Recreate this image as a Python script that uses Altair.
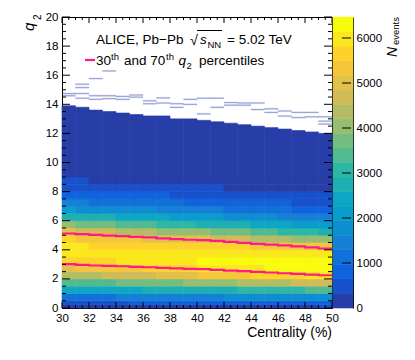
import altair as alt
import pandas as pd
import numpy as np

# ---------------- data ----------------
cent_low = list(range(30, 50))                       # centrality bins, 1 % wide
q2_low = [0.0, 0.25, 0.5, 1.0, 1.5, 2.0, 2.5, 3.0, 3.5, 4.0, 4.5,
          5.0, 5.5, 6.0, 6.5, 7.0, 7.5, 8.0, 8.5]    # q2 bin lower edges
q2_high = [0.25, 0.5, 1.0, 1.5, 2.0, 2.5, 3.0, 3.5, 4.0, 4.5, 5.0,
           5.5, 6.0, 6.5, 7.0, 7.5, 8.0, 8.5, 9.0]   # q2 bin upper edges
# counts per q2 row (bottom to top), one value per centrality bin
row_000 = [200, 205, 210, 215, 220, 230, 235, 240, 245, 250, 260, 265, 270, 280, 285, 290, 300, 310, 320, 330]
row_025 = [550, 570, 590, 610, 630, 650, 670, 690, 710, 730, 750, 770, 790, 810, 830, 850, 870, 890, 910, 930]
row_050 = [1150, 1190, 1230, 1270, 1310, 1350, 1390, 1430, 1470, 1510, 1550, 1590, 1630, 1670, 1710, 1750, 1790, 1830, 1870, 1900]
row_100 = [2300, 2350, 2400, 2450, 2500, 2550, 2600, 2650, 2700, 2750, 2800, 2850, 2900, 2950, 3000, 3060, 3120, 3180, 3240, 3300]
row_150 = [3300, 3370, 3440, 3510, 3580, 3650, 3720, 3790, 3860, 3930, 4000, 4080, 4160, 4240, 4320, 4400, 4500, 4600, 4700, 4800]
row_200 = [4300, 4390, 4480, 4570, 4660, 4750, 4840, 4930, 5020, 5110, 5200, 5290, 5380, 5470, 5560, 5640, 5730, 5820, 5910, 6000]
row_250 = [5100, 5180, 5250, 5330, 5400, 5480, 5550, 5630, 5700, 5780, 5850, 5910, 5970, 6030, 6090, 6160, 6220, 6280, 6340, 6400]
row_300 = [5650, 5700, 5750, 5800, 5850, 5900, 5950, 6000, 6050, 6100, 6150, 6180, 6210, 6240, 6260, 6290, 6320, 6350, 6380, 6420]
row_350 = [5900, 5920, 5940, 5960, 5980, 6000, 6020, 6040, 6060, 6080, 6100, 6110, 6100, 6120, 6110, 6100, 6110, 6120, 6100, 6100]
row_400 = [5850, 5830, 5810, 5790, 5770, 5750, 5730, 5710, 5690, 5670, 5650, 5600, 5550, 5500, 5450, 5400, 5350, 5300, 5250, 5200]
row_450 = [5550, 5490, 5420, 5360, 5290, 5230, 5160, 5100, 5030, 4970, 4900, 4800, 4700, 4600, 4500, 4400, 4300, 4200, 4100, 4000]
row_500 = [4900, 4800, 4700, 4600, 4500, 4400, 4300, 4200, 4100, 4000, 3900, 3790, 3680, 3570, 3460, 3340, 3230, 3120, 3010, 2900]
row_550 = [3950, 3850, 3740, 3640, 3530, 3430, 3320, 3220, 3110, 3010, 2900, 2800, 2700, 2600, 2500, 2400, 2300, 2200, 2100, 2000]
row_600 = [2850, 2770, 2690, 2610, 2530, 2450, 2370, 2290, 2210, 2130, 2050, 1970, 1890, 1810, 1740, 1660, 1580, 1500, 1430, 1350]
row_650 = [2000, 1940, 1880, 1820, 1760, 1700, 1640, 1580, 1520, 1460, 1400, 1340, 1280, 1220, 1160, 1090, 1030, 970, 910, 850]
row_700 = [1350, 1300, 1260, 1210, 1170, 1120, 1080, 1030, 990, 940, 900, 860, 820, 780, 740, 700, 660, 620, 590, 550]
row_750 = [900, 870, 840, 800, 770, 740, 710, 680, 640, 610, 580, 550, 520, 500, 470, 440, 410, 390, 360, 340]
row_800 = [560, 540, 520, 500, 480, 460, 440, 420, 400, 380, 360, 340, 320, 300, 280, 270, 250, 230, 220, 200]
row_850 = [340, 330, 320, 310, 300, 290, 280, 270, 260, 250, 240, 230, 210, 200, 190, 170, 160, 150, 130, 120]
count_rows = [row_000, row_025, row_050, row_100, row_150, row_200, row_250, row_300, row_350,
              row_400, row_450, row_500, row_550, row_600, row_650, row_700, row_750, row_800,
              row_850]

# low-count tail (1..323 events) from q2 = 9 up to a top edge per centrality bin
tail_start = 9.0
tail_top = [13.9, 13.8, 13.6, 13.5, 13.4, 13.3, 13.2, 13.2, 13.0, 13.0,
            12.9, 12.8, 12.7, 12.6, 12.5, 12.4, 12.3, 12.2, 12.1, 12.0]
tail_count = 150

# sparse single-entry bins above the tail
dash_cent = [30, 30, 31, 31, 31, 31, 32, 32, 32, 33, 33, 33, 34, 34, 35, 35, 36, 36, 37, 37,
             38, 38, 39, 39, 40, 40, 41, 41, 42, 42, 43, 43, 44, 44, 45, 45, 46, 46, 47, 47,
             48, 48, 49, 49, 49]
dash_q2 = [14.70, 14.55, 15.34, 15.11, 14.70, 14.38, 15.73, 14.55, 14.30, 16.25, 14.55, 14.35,
           14.50, 14.30, 14.60, 14.45, 14.20, 14.00, 14.40, 14.05, 14.00, 13.75, 14.30, 13.95,
           14.38, 13.30, 14.38, 13.75, 14.08, 13.90, 14.05, 13.90, 14.05, 13.60, 13.65, 13.40,
           13.50, 13.15, 13.40, 13.05, 13.40, 13.10, 13.10, 12.80, 12.60]
dash_count = 1

# 30th and 70th q2 percentiles per centrality bin
p30 = [3.01, 2.96, 2.92, 2.89, 2.87, 2.83, 2.80, 2.76, 2.73, 2.69,
       2.67, 2.62, 2.57, 2.53, 2.48, 2.44, 2.39, 2.34, 2.30, 2.25]
p70 = [5.12, 5.08, 5.03, 4.98, 4.94, 4.89, 4.85, 4.78, 4.73, 4.69,
       4.66, 4.62, 4.55, 4.48, 4.41, 4.36, 4.30, 4.24, 4.16, 4.09]

z_max = 6467
n_levels = 20
x_labels = list(range(30, 51, 2))
y_labels = list(range(0, 21, 2))
z_labels = [0, 1000, 2000, 3000, 4000, 5000, 6000]

# ---------------- tables ----------------
heat = pd.DataFrame([
    {"c0": c, "c1": c + 1, "q0": q0, "q1": q1, "n": row[i]}
    for q0, q1, row in zip(q2_low, q2_high, count_rows) for i, c in enumerate(cent_low)
])
tail = pd.DataFrame({"c0": cent_low, "c1": [c + 1 for c in cent_low],
                     "q0": [tail_start] * len(cent_low), "q1": tail_top,
                     "n": [tail_count] * len(cent_low)})
dash = pd.DataFrame({"c0": dash_cent, "c1": [c + 1 for c in dash_cent],
                     "q0": dash_q2, "q1": [q + 0.08 for q in dash_q2],
                     "n": [dash_count] * len(dash_cent)})
lines = pd.DataFrame({
    "c": cent_low + [50] + cent_low + [50],
    "q": p30 + [p30[-1]] + p70 + [p70[-1]],
    "s": ["p30"] * 21 + ["p70"] * 21,
})

# ROOT kBird palette, 20 contour levels
stops = [0.0, 0.125, 0.25, 0.375, 0.5, 0.625, 0.75, 0.875, 1.0]
R = [0.2082, 0.0592, 0.0780, 0.0232, 0.1802, 0.5301, 0.8186, 0.9956, 0.9764]
G = [0.1664, 0.3599, 0.5041, 0.6419, 0.7178, 0.7492, 0.7328, 0.7862, 0.9832]
B = [0.5293, 0.8684, 0.8385, 0.7914, 0.6425, 0.4662, 0.3499, 0.1968, 0.0539]
palette = []
for k in range(n_levels):
    t = int((k + 0.99) * 255 / n_levels) / 254
    rgb = [int(round(255 * np.interp(t, stops, ch))) for ch in (R, G, B)]
    palette.append("#%02x%02x%02x" % tuple(rgb))
step = z_max / n_levels
thresholds = [step * k for k in range(1, n_levels)]
cscale = alt.Scale(type="threshold", domain=thresholds, range=palette)

cbar = pd.DataFrame({"lo": [step * k for k in range(n_levels)],
                     "hi": [step * (k + 1) for k in range(n_levels)],
                     "n": [step * (k + 0.5) for k in range(n_levels)]})
cbar_ticks = pd.DataFrame({"v": z_labels[1:]})

FONT = "Liberation Sans"
W, H = 270, 291


def xs():
    return alt.Scale(domain=[30, 50], nice=False, zero=False)


def ys():
    return alt.Scale(domain=[0, 20], nice=False, zero=False)


def zs():
    return alt.Scale(domain=[0, z_max], nice=False, zero=True)


# the x scale is shared by many layers: every one of them gets the same axis
def xaxis():
    return alt.Axis(values=x_labels, format="d", labelPadding=4, title=None)


yaxis = alt.Axis(values=y_labels, format="d", labelPadding=4, title=None)
zaxis = alt.Axis(orient="right", offset=21, values=z_labels, format="d",
                 labelPadding=3, title=None)


def cells(df, opacity=1.0, with_y_axis=False):
    return alt.Chart(df).mark_rect(opacity=opacity, strokeWidth=0.6, strokeOpacity=opacity).encode(
        x=alt.X("c0:Q", scale=xs(), axis=xaxis()), x2="c1:Q",
        y=alt.Y("q0:Q", scale=ys(), axis=yaxis if with_y_axis else None), y2="q1:Q",
        color=alt.Color("n:Q", scale=cscale, legend=None),
        stroke=alt.Color("n:Q", scale=cscale, legend=None),
    )


heat_layer = cells(heat, with_y_axis=True)
tail_layer = cells(tail)
dash_layer = cells(dash, 0.45)

line_layer = alt.Chart(lines).mark_line(interpolate="step-after", color="#ff1a8c",
                                        strokeWidth=2.2).encode(
    x=alt.X("c:Q", scale=xs(), axis=xaxis()),
    y=alt.Y("q:Q", scale=ys(), axis=None),
    detail="s:N",
)

# inward ticks (ROOT style) on all four frame sides
xt_major = pd.DataFrame({"v": x_labels})
xt_minor = pd.DataFrame({"v": [v for v in np.arange(30, 50.01, 0.5) if v % 2 != 0]})
yt_major = pd.DataFrame({"v": y_labels})
yt_minor = pd.DataFrame({"v": [v for v in np.arange(0, 20.01, 0.5) if v % 2 != 0]})


def xticks(df, y0, y1):
    return alt.Chart(df).mark_rule(color="black", strokeWidth=1).encode(
        x=alt.X("v:Q", scale=xs(), axis=xaxis()), y=alt.value(y0), y2=alt.value(y1))


def yticks(df, x0, x1):
    return alt.Chart(df).mark_rule(color="black", strokeWidth=1).encode(
        y=alt.Y("v:Q", scale=ys(), axis=None), x=alt.value(x0), x2=alt.value(x1))


tick_layers = [
    xticks(xt_major, H, H - 6), xticks(xt_minor, H, H - 3),
    xticks(xt_major, 0, 6), xticks(xt_minor, 0, 3),
    yticks(yt_major, 0, 8), yticks(yt_minor, 0, 4),
    yticks(yt_major, W, W - 8), yticks(yt_minor, W, W - 4),
]


def label(text, x, y, size=13.5, style="normal", angle=0, align="left"):
    return alt.Chart(pd.DataFrame({"t": [text]})).mark_text(
        font=FONT, fontSize=size, fontStyle=style, align=align, baseline="alphabetic",
        angle=angle, color="black").encode(x=alt.value(x), y=alt.value(y), text="t:N")


texts = [
    label("ALICE, Pb\u2212Pb", 34, 27),
    label("\u221a", 128, 28, size=14.5),
    label("s", 138, 27, style="italic"),
    label("NN", 145.5, 30.5, size=9.5),
    label("= 5.02 TeV", 165, 27),
    label("30", 34, 48),
    label("th", 49, 42.5, size=9.5),
    label("and 70", 62, 48),
    label("th", 104, 42.5, size=9.5),
    label("q", 116.5, 48, style="italic"),
    label("2", 124.5, 51.5, size=9.5),
    label("percentiles", 137, 48),
    label("q", -28.5, 14, size=15, style="italic", angle=270),
    label("2", -21, 3, size=10, angle=270),
    label("N", 335, 40, size=14, style="italic", angle=270),
    label("events", 337, 28, size=9.5, angle=270),
    label("Centrality (%)", 270, 320, size=14, align="right"),
]
overline = alt.Chart(pd.DataFrame({"a": [0]})).mark_rule(color="black", strokeWidth=1).encode(
    x=alt.value(135), x2=alt.value(160), y=alt.value(13.5))
legend_line = alt.Chart(pd.DataFrame({"a": [0]})).mark_rule(color="#ff1a8c", strokeWidth=2.2).encode(
    x=alt.value(23), x2=alt.value(33), y=alt.value(43))

cbar_rects = alt.Chart(cbar).mark_rect(strokeWidth=0.6).encode(
    x=alt.value(271), x2=alt.value(291),
    y=alt.Y("lo:Q", scale=zs(), axis=zaxis), y2="hi:Q",
    color=alt.Color("n:Q", scale=cscale, legend=None),
    stroke=alt.Color("n:Q", scale=cscale, legend=None),
)
cbar_tick_layer = alt.Chart(cbar_ticks).mark_rule(color="black", strokeWidth=1).encode(
    y=alt.Y("v:Q", scale=zs(), axis=None), x=alt.value(280), x2=alt.value(289))

chart = alt.layer(
    heat_layer, tail_layer, dash_layer, line_layer, *tick_layers,
    overline, legend_line, *texts, cbar_rects, cbar_tick_layer,
).resolve_scale(y="independent").properties(
    width=W, height=H,
    autosize=alt.AutoSizeParams(type="none"),
    padding={"left": 54, "top": 9, "right": 75, "bottom": 45},
).configure_view(stroke="black", strokeWidth=1).configure_axis(
    ticks=False, grid=False, labelFont=FONT, labelFontSize=11.5, labelColor="black",
    domainColor="black", labelOverlap=False, labelFlush=False,
)

chart.save("out.html", embed_options={"renderer": "svg", "actions": False})
